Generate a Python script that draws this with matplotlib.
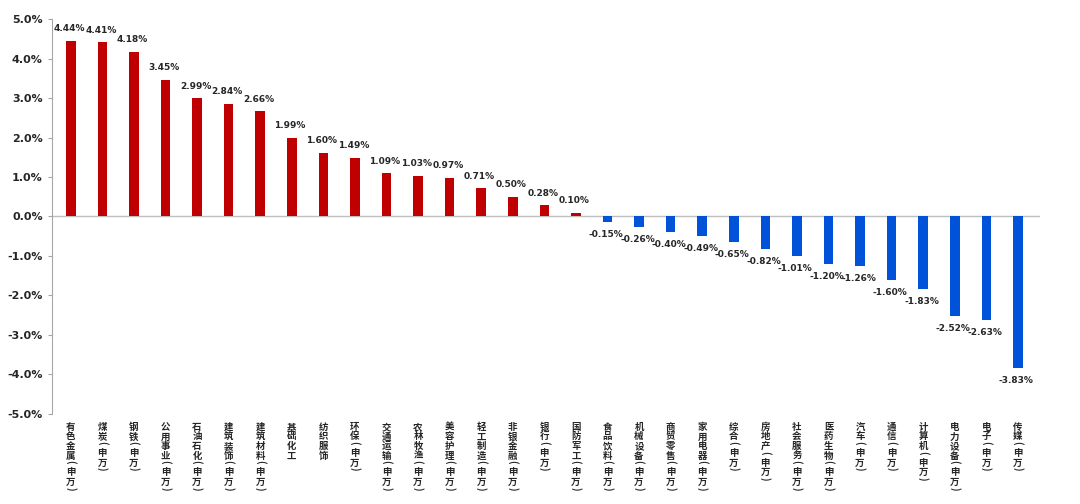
import matplotlib.pyplot as plt
from matplotlib.ticker import FuncFormatter, MultipleLocator

plt.rcParams['font.family'] = ['Noto Sans CJK SC', 'DejaVu Sans']

industries = ['有色金属(申万)', '煤炭(申万)', '钢铁(申万)', '公用事业(申万)', '石油石化(申万)',
              '建筑装饰(申万)', '建筑材料(申万)', '基础化工', '纺织服饰', '环保(申万)',
              '交通运输(申万)', '农林牧渔(申万)', '美容护理(申万)', '轻工制造(申万)', '非银金融(申万)',
              '银行(申万)', '国防军工(申万)', '食品饮料(申万)', '机械设备(申万)', '商贸零售(申万)',
              '家用电器(申万)', '综合(申万)', '房地产(申万)', '社会服务(申万)', '医药生物(申万)',
              '汽车(申万)', '通信(申万)', '计算机(申万)', '电力设备(申万)', '电子(申万)', '传媒(申万)']
returns = [4.44, 4.41, 4.18, 3.45, 2.99, 2.84, 2.66, 1.99, 1.60, 1.49,
           1.09, 1.03, 0.97, 0.71, 0.50, 0.28, 0.10, -0.15, -0.26, -0.40,
           -0.49, -0.65, -0.82, -1.01, -1.20, -1.26, -1.60, -1.83, -2.52, -2.63, -3.83]

fig = plt.figure(figsize=(10.8, 5.04), dpi=100)
ax = fig.add_axes([0.048, 0.179, 0.915, 0.783])

x = list(range(len(returns)))
colors = ['#C00000' if v >= 0 else '#0052D9' for v in returns]
ax.bar(x, returns, width=0.3, color=colors, zorder=3)

# 数据标签
for xi, v in zip(x, returns):
    if v >= 0:
        ax.text(xi - 0.05, v + 0.2, f'{v:.2f}%', ha='center', va='bottom',
                fontsize=6.5, fontweight='bold', color='#262626', family='DejaVu Sans')
    else:
        ax.text(xi - 0.05, v - 0.2, f'{v:.2f}%', ha='center', va='top',
                fontsize=6.5, fontweight='bold', color='#262626', family='DejaVu Sans')

ax.set_ylim(-5, 5)
ax.set_xlim(-0.6, len(returns) - 0.3)
ax.yaxis.set_major_locator(MultipleLocator(1))
ax.yaxis.set_major_formatter(FuncFormatter(lambda v, p: f'{v:.1f}%'))
ax.tick_params(axis='y', labelsize=8, colors='#262626', length=3, color='#A6A6A6')
for t in ax.get_yticklabels():
    t.set_fontweight('bold')
    t.set_family('DejaVu Sans')

ax.axhline(0, color='#BFBFBF', linewidth=1, zorder=2)

# 竖排行业名称，逐字放置，括号旋转
ax.set_xticks(x)
ax.set_xticklabels([])
ax.tick_params(axis='x', length=0)
for xi, name in zip(x, industries):
    off = 5.8
    for ch in name:
        is_paren = ch in '()'
        ax.annotate(ch, xy=(xi, 0), xycoords=('data', 'axes fraction'),
                    xytext=(0, -off), textcoords='offset points',
                    ha='center', va='top', fontsize=6.8, fontweight='bold',
                    color='#262626', rotation=-90 if is_paren else 0,
                    annotation_clip=False)
        off += 5.2 if is_paren else 6.9

for side in ['top', 'right', 'bottom']:
    ax.spines[side].set_visible(False)
ax.spines['left'].set_color('#A6A6A6')

fig.savefig('out.png', dpi=100)
